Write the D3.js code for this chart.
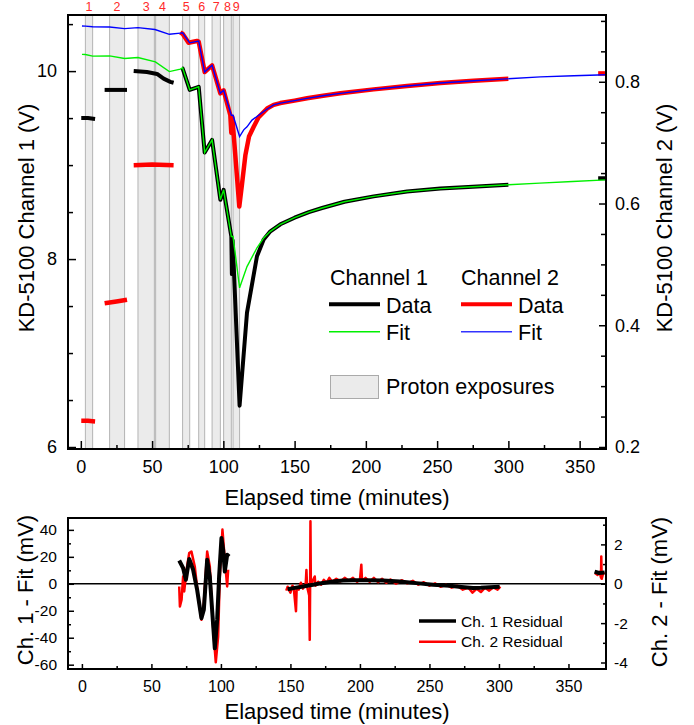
<!DOCTYPE html>
<html>
<head>
<meta charset="utf-8">
<script src="https://cdn.jsdelivr.net/npm/d3@7/dist/d3.min.js"></script>
<style>
  body { margin: 0; background: #fff; }
  svg { font-family: "Liberation Sans", Arial, sans-serif; }
</style>
</head>
<body>
<svg id="chart" width="694" height="725"></svg>
<script>
// --- Data ---

// proton exposure windows (minutes)
const exposureBands = [[3.2, 8.3], [20.2, 30.7], [40.1, 51.6], [52.5, 62.1], [71.4, 76.4],
  [82.7, 86.9], [92.1, 97.9], [100.2, 105.6], [106.8, 111.4]];
const exposureLabels = ["1", "2", "3", "4", "5", "6", "7", "8", "9"];

// Channel 1 data (V, left axis)
const ch1DataSegments = [
  [[0.3, 9.50], [5, 9.50], [10, 9.49]],
  [[16.7, 9.80], [25, 9.80], [32.4, 9.80]],
  [[37.1, 10.0], [46.4, 9.99], [53.5, 9.97], [58.1, 9.92], [62.8, 9.886], [65.1, 9.876]],
  [[71.0, 10.032], [71.4, 10.03], [76.4, 9.80], [82.7, 9.833], [86.9, 9.133], [92.1, 9.268],
   [97.9, 8.631], [100.2, 8.737], [105.6, 8.24], [106.0, 7.84], [106.5, 8.2], [107.2, 7.96],
   [111.4, 6.44], [116.6, 7.43], [123.6, 8.03], [128.3, 8.207], [133, 8.295], [140, 8.37],
   [150, 8.44], [160, 8.50], [169.3, 8.543], [185, 8.61], [205.5, 8.667], [228.9, 8.719],
   [252.3, 8.75], [275, 8.77], [300, 8.79]],
  [[363, 8.86], [368.5, 8.86]]
];

// Channel 1 fit
const ch1Fit = [[0.8, 10.178], [3.2, 10.177], [8.3, 10.159], [20.2, 10.162], [30.7, 10.134],
  [40.1, 10.145], [52.3, 10.099], [62.1, 9.995], [69.8, 10.021], [71.4, 10.035], [76.4, 9.80],
  [82.7, 9.833], [86.9, 9.133], [92.1, 9.268], [97.9, 8.631], [100.2, 8.737], [105.6, 8.24],
  [106.8, 8.24], [111.4, 7.694], [116.6, 7.92], [123.6, 8.12], [128.3, 8.225], [133, 8.295],
  [140, 8.37], [150, 8.44], [160, 8.50], [169.3, 8.543], [185, 8.61], [205.5, 8.667],
  [228.9, 8.719], [252.3, 8.75], [275, 8.77], [300, 8.79], [322, 8.808], [345, 8.826], [368.5, 8.843]];

// Channel 2 data (V, right axis)
const ch2DataSegments = [
  [[0.3, 0.243], [5, 0.243], [10, 0.242]],
  [[16.7, 0.436], [25, 0.439], [32.4, 0.442]],
  [[37.1, 0.663], [50, 0.664], [65.1, 0.663]],
  [[69.8, 0.881], [71.4, 0.879], [75.6, 0.864], [81.5, 0.867], [82.7, 0.866], [86.9, 0.816],
   [92.1, 0.827], [97.9, 0.781], [100.2, 0.786], [104.9, 0.745], [105.6, 0.716], [106.3, 0.742],
   [107.4, 0.709], [111.2, 0.595], [113, 0.63], [115.5, 0.68], [118, 0.71], [121.3, 0.726],
   [124.8, 0.742], [130.7, 0.756], [135.3, 0.762], [140, 0.765], [150, 0.769], [158.7, 0.7728],
   [170, 0.777], [182.1, 0.781], [205.5, 0.7875], [228.9, 0.793], [252.3, 0.798],
   [275.6, 0.8017], [300, 0.8048]],
  [[363, 0.8137], [368.5, 0.8137]]
];

// Channel 2 fit
const ch2Fit = [[0.8, 0.8917], [3.2, 0.8915], [8.3, 0.8905], [20.2, 0.890], [30.7, 0.8873],
  [40.1, 0.889], [52, 0.8858], [62.1, 0.878], [69.8, 0.880], [71.4, 0.8805], [76.4, 0.864],
  [82.7, 0.867], [86.9, 0.816], [92.1, 0.827], [97.9, 0.781], [100.2, 0.786], [105.6, 0.745],
  [106.8, 0.745], [111.4, 0.710], [114.3, 0.721], [116.6, 0.726], [120.1, 0.737], [123.6, 0.743],
  [126, 0.747], [130, 0.754], [135.3, 0.762], [140, 0.765], [150, 0.769], [158.7, 0.7728],
  [170, 0.777], [182.1, 0.781], [205.5, 0.7875], [228.9, 0.793], [252.3, 0.798], [275.6, 0.8017],
  [295.6, 0.8044], [322.5, 0.808], [345.8, 0.810], [368.5, 0.8115]];

// residuals (mV): Ch. 1 on left axis, Ch. 2 on right axis
const res1Segments = [
  [[70.0, 17.3], [72.8, 11.7], [74.8, 3.0], [77.2, 18.4], [80.0, 10.4], [82.9, -4.5], [86.0, -25.5],
   [87.7, -19.3], [90.1, 17.8], [92.0, 5.4], [94.0, -24.3], [95.6, -47.8], [97.3, -26.8],
   [98.7, 5.4], [100.4, 34.0], [101.6, 25.3], [102.8, 9.1], [104.5, 21.6], [105.9, 20.3]],
  [[148, -4.0], [152, -3.2], [157, -2.4], [162, -1.4], [166.3, -0.7], [171, 0.2], [175.9, 1.0],
   [182, 1.9], [187.9, 2.5], [195, 2.6], [205, 2.6], [216.6, 2.5], [228.6, 1.7], [240.6, 0.5],
   [252.6, -0.7], [264.6, -1.5], [273, -2.4], [281.3, -3.2], [287, -3.0], [293.3, -2.5], [300.5, -2.2]],
  [[368.8, 9.1], [372, 8.0], [376, 8.4]]
];

const res2Segments = [
  [[70.0, -0.14], [70.5, -1.15], [71.7, -0.81], [72.8, 0.37], [73.6, -0.39], [75.3, 0.71],
   [77.2, 1.56], [78.8, 1.64], [81.2, 0.88], [83.6, -0.65], [86.0, -1.83], [87.7, -0.98],
   [90.1, 1.64], [92.0, 0.88], [94.0, -1.83], [96.3, -3.99], [98.0, -2.68], [99.2, 0.37],
   [101.1, 2.75], [102.8, 1.22], [104.5, -0.14], [105.2, 0.71]],
  [[147, -0.35], [148, -0.15], [150, -0.45], [151.5, -0.1], [152.5, -0.3], [154, -1.4], [154.5, -0.2],
   [156, -0.3], [157.5, 0.05], [159, -0.25], [161, 0.0], [161.5, 0.7], [162, -0.15], [163.5, -0.6],
   [163.9, -2.85], [164.2, 0.1], [164.4, 3.17], [164.7, -0.1], [166, 0.15], [167.5, 0.37],
   [168, -0.1], [170, 0.1], [172, -0.05], [174, 0.2], [176, 0.05], [178, 0.3], [180, 0.1],
   [183, 0.25], [186, 0.12], [189, 0.3], [192, 0.15], [195, 0.3], [198, 0.1], [200, 0.2],
   [201, 0.97], [201.5, 0.15], [204, 0.3], [207, 0.1], [210, 0.3], [213, 0.08], [216, 0.25],
   [219, 0.05], [222, 0.22], [226, 0.0], [230, 0.18], [234, 0.02], [238, 0.15], [242, -0.05],
   [246, 0.08], [250, -0.1], [254, 0.02], [258, -0.15], [262, -0.05], [266, -0.2], [270, -0.1],
   [274, -0.3], [278, -0.2], [281, -0.45], [284, -0.25], [287, -0.42], [290, -0.2], [293, -0.35],
   [296, -0.18], [299, -0.3], [301, -0.15]],
  [[369, 0.55], [371, 0.45], [372.5, 0.6], [373.4, 0.3], [373.6, 1.39], [373.9, 0.25], [375, 0.55], [376, 0.5]]
];

// tick values
const timeTicks = [0, 50, 100, 150, 200, 250, 300, 350];
const ch1Ticks = [6, 8, 10];
const ch2Ticks = [0.2, 0.4, 0.6, 0.8];
const res1Ticks = [-60, -40, -20, 0, 20, 40];
const res2Ticks = [-4, -2, 0, 2];

// --- Layout ---
const TOP = { left: 68, right: 606, top: 15, bottom: 449 };
const BOT = { left: 68, right: 606, top: 518, bottom: 669 };

const svg = d3.select("#chart");
const plainNum = d => String(d); // hyphen minus, like the original

// --- Scales ---
const xTop = d3.scaleLinear().domain([-9, 368.5]).range([TOP.left, TOP.right]);
const y1Top = d3.scaleLinear().domain([5.979, 10.597]).range([TOP.bottom, TOP.top]);
const y2Top = d3.scaleLinear().domain([0.1967, 0.9097]).range([TOP.bottom, TOP.top]);

const xBot = d3.scaleLinear().domain([-10, 377]).range([BOT.left, BOT.right]);
const y1Bot = d3.scaleLinear().domain([-63.2, 48.8]).range([BOT.bottom, BOT.top]);
const y2Bot = d3.scaleLinear().domain([-4.33, 3.34]).range([BOT.bottom, BOT.top]);

// clip paths
const defs = svg.append("defs");
defs.append("clipPath").attr("id", "clipTop").append("rect")
  .attr("x", TOP.left).attr("y", TOP.top)
  .attr("width", TOP.right - TOP.left).attr("height", TOP.bottom - TOP.top);
defs.append("clipPath").attr("id", "clipBot").append("rect")
  .attr("x", BOT.left).attr("y", BOT.top)
  .attr("width", BOT.right - BOT.left).attr("height", BOT.bottom - BOT.top);

// --- Top panel ---
const topPlot = svg.append("g").attr("clip-path", "url(#clipTop)");

// exposure bands
const bandG = topPlot.append("g");
exposureBands.forEach(([a, b]) => {
  bandG.append("rect")
    .attr("x", xTop(a)).attr("y", TOP.top)
    .attr("width", xTop(b) - xTop(a)).attr("height", TOP.bottom - TOP.top)
    .attr("fill", "#ebebeb");
  [a, b].forEach(t => {
    bandG.append("line")
      .attr("x1", xTop(t)).attr("x2", xTop(t))
      .attr("y1", TOP.top).attr("y2", TOP.bottom)
      .attr("stroke", "#b4b4b4").attr("stroke-width", 1);
  });
});

svg.append("g").selectAll("text")
  .data(exposureBands)
  .join("text")
  .attr("x", d => xTop((d[0] + d[1]) / 2))
  .attr("y", 11)
  .attr("text-anchor", "middle")
  .attr("font-size", 12.5)
  .attr("fill", "#ff2a2a")
  .text((d, i) => exposureLabels[i]);

const line1Top = d3.line().x(d => xTop(d[0])).y(d => y1Top(d[1]));
const line2Top = d3.line().x(d => xTop(d[0])).y(d => y2Top(d[1]));

ch1DataSegments.forEach(seg => {
  topPlot.append("path").datum(seg)
    .attr("fill", "none").attr("stroke", "#000").attr("stroke-width", 4)
    .attr("stroke-linejoin", "round").attr("d", line1Top);
});
ch2DataSegments.forEach(seg => {
  topPlot.append("path").datum(seg)
    .attr("fill", "none").attr("stroke", "#ff0000").attr("stroke-width", 4.5)
    .attr("stroke-linejoin", "round").attr("d", line2Top);
});
topPlot.append("path").datum(ch1Fit)
  .attr("fill", "none").attr("stroke", "#00f000").attr("stroke-width", 1.4).attr("d", line1Top);
topPlot.append("path").datum(ch2Fit)
  .attr("fill", "none").attr("stroke", "#0000ff").attr("stroke-width", 1.4).attr("d", line2Top);

// --- Axes helpers ---
function styleAxis(g, size) {
  g.select(".domain").remove();
  g.selectAll(".tick line").attr("stroke", "#000").attr("stroke-width", 1.5);
  g.selectAll(".tick text").attr("font-size", size).attr("fill", "#000")
    .attr("font-family", "Liberation Sans, Arial, sans-serif");
}
function minorTicks(axisFn, scale, values, len, transform) {
  const g = svg.append("g").attr("transform", transform)
    .call(axisFn(scale).tickValues(values).tickSize(-len).tickFormat(""));
  styleAxis(g, 0);
}

// top panel axes
let g = svg.append("g").attr("transform", `translate(0,${TOP.bottom})`)
  .call(d3.axisBottom(xTop).tickValues(timeTicks).tickSize(-8).tickPadding(11).tickFormat(plainNum));
styleAxis(g, 18);
minorTicks(d3.axisBottom, xTop, d3.range(25, 375, 50), 4, `translate(0,${TOP.bottom})`);

g = svg.append("g").attr("transform", `translate(${TOP.left},0)`)
  .call(d3.axisLeft(y1Top).tickValues(ch1Ticks).tickSize(-8).tickPadding(11).tickFormat(plainNum));
styleAxis(g, 18);
minorTicks(d3.axisLeft, y1Top, [6.5, 7, 7.5, 8.5, 9, 9.5, 10.5], 5, `translate(${TOP.left},0)`);

g = svg.append("g").attr("transform", `translate(${TOP.right},0)`)
  .call(d3.axisRight(y2Top).tickValues(ch2Ticks).tickSize(-7).tickPadding(9).tickFormat(d3.format(".1f")));
styleAxis(g, 18);
minorTicks(d3.axisRight, y2Top, [0.25, 0.3, 0.35, 0.45, 0.5, 0.55, 0.65, 0.7, 0.75, 0.85, 0.9], 5,
  `translate(${TOP.right},0)`);

svg.append("rect")
  .attr("x", TOP.left).attr("y", TOP.top)
  .attr("width", TOP.right - TOP.left).attr("height", TOP.bottom - TOP.top)
  .attr("fill", "none").attr("stroke", "#000").attr("stroke-width", 2);

// axis titles
function title(x, y, text, rotate) {
  const t = svg.append("text")
    .attr("text-anchor", "middle").attr("font-size", 22).attr("fill", "#000").text(text);
  if (rotate) {
    t.attr("transform", `translate(${x},${y}) rotate(-90)`).attr("dy", "0.35em");
  } else {
    t.attr("x", x).attr("y", y);
  }
}
title(337, 505, "Elapsed time (minutes)", false);
title(26, 218, "KD-5100 Channel 1 (V)", true);
title(664, 218, "KD-5100 Channel 2 (V)", true);

// top legend
const leg = svg.append("g").attr("font-size", 21.5).attr("fill", "#000");
leg.append("text").attr("x", 330).attr("y", 285).text("Channel 1");
leg.append("text").attr("x", 461).attr("y", 285).text("Channel 2");
const legRows = [
  { y: 304.3, label: "Data", c1: "#000", c2: "#ff0000", w: 4 },
  { y: 331.7, label: "Fit", c1: "#00f000", c2: "#3333ff", w: 1.5 }
];
legRows.forEach(r => {
  leg.append("line").attr("x1", 329).attr("x2", 380).attr("y1", r.y).attr("y2", r.y)
    .attr("stroke", r.c1).attr("stroke-width", r.w);
  leg.append("text").attr("x", 386).attr("y", r.y + 8.5).text(r.label);
  leg.append("line").attr("x1", 461).attr("x2", 512).attr("y1", r.y).attr("y2", r.y)
    .attr("stroke", r.c2).attr("stroke-width", r.w);
  leg.append("text").attr("x", 518).attr("y", r.y + 8.5).text(r.label);
});
leg.append("rect").attr("x", 330.5).attr("y", 375.5).attr("width", 48).attr("height", 23)
  .attr("fill", "#ebebeb").attr("stroke", "#aaa").attr("stroke-width", 1);
leg.append("text").attr("x", 386).attr("y", 394).text("Proton exposures");

// --- Bottom panel ---
const botPlot = svg.append("g").attr("clip-path", "url(#clipBot)");
botPlot.append("line")
  .attr("x1", BOT.left).attr("x2", BOT.right)
  .attr("y1", y1Bot(0)).attr("y2", y1Bot(0))
  .attr("stroke", "#000").attr("stroke-width", 1.5);

const line1Bot = d3.line().x(d => xBot(d[0])).y(d => y1Bot(d[1]));
const line2Bot = d3.line().x(d => xBot(d[0])).y(d => y2Bot(d[1]));

res2Segments.forEach(seg => {
  botPlot.append("path").datum(seg)
    .attr("fill", "none").attr("stroke", "#ff0000").attr("stroke-width", 2.5)
    .attr("stroke-linejoin", "round").attr("d", line2Bot);
});
res1Segments.forEach(seg => {
  botPlot.append("path").datum(seg)
    .attr("fill", "none").attr("stroke", "#000").attr("stroke-width", 4)
    .attr("stroke-linejoin", "round").attr("d", line1Bot);
});

g = svg.append("g").attr("transform", `translate(0,${BOT.bottom})`)
  .call(d3.axisBottom(xBot).tickValues(timeTicks).tickSize(-5).tickPadding(12).tickFormat(plainNum));
styleAxis(g, 16);
minorTicks(d3.axisBottom, xBot, d3.range(25, 375, 50), 3, `translate(0,${BOT.bottom})`);

g = svg.append("g").attr("transform", `translate(${BOT.left},0)`)
  .call(d3.axisLeft(y1Bot).tickValues(res1Ticks).tickSize(-6).tickPadding(11).tickFormat(plainNum));
styleAxis(g, 15.5);
minorTicks(d3.axisLeft, y1Bot, [-50, -30, -10, 10, 30], 3, `translate(${BOT.left},0)`);

g = svg.append("g").attr("transform", `translate(${BOT.right},0)`)
  .call(d3.axisRight(y2Bot).tickValues(res2Ticks).tickSize(-5).tickPadding(8).tickFormat(plainNum));
styleAxis(g, 15.5);
minorTicks(d3.axisRight, y2Bot, [-3, -1, 1, 3], 3, `translate(${BOT.right},0)`);

svg.append("rect")
  .attr("x", BOT.left).attr("y", BOT.top)
  .attr("width", BOT.right - BOT.left).attr("height", BOT.bottom - BOT.top)
  .attr("fill", "none").attr("stroke", "#000").attr("stroke-width", 2);

title(337, 719, "Elapsed time (minutes)", false);
title(25, 590, "Ch. 1 - Fit (mV)", true);
title(659, 592, "Ch. 2 - Fit (mV)", true);

// bottom legend
const leg2 = svg.append("g").attr("font-size", 15.5).attr("fill", "#000");
leg2.append("line").attr("x1", 419).attr("x2", 456).attr("y1", 621).attr("y2", 621)
  .attr("stroke", "#000").attr("stroke-width", 3.5);
leg2.append("text").attr("x", 461).attr("y", 626.7).text("Ch. 1 Residual");
leg2.append("line").attr("x1", 419).attr("x2", 456).attr("y1", 641.7).attr("y2", 641.7)
  .attr("stroke", "#ff0000").attr("stroke-width", 2.5);
leg2.append("text").attr("x", 461).attr("y", 647.3).text("Ch. 2 Residual");
</script>
</body>
</html>
